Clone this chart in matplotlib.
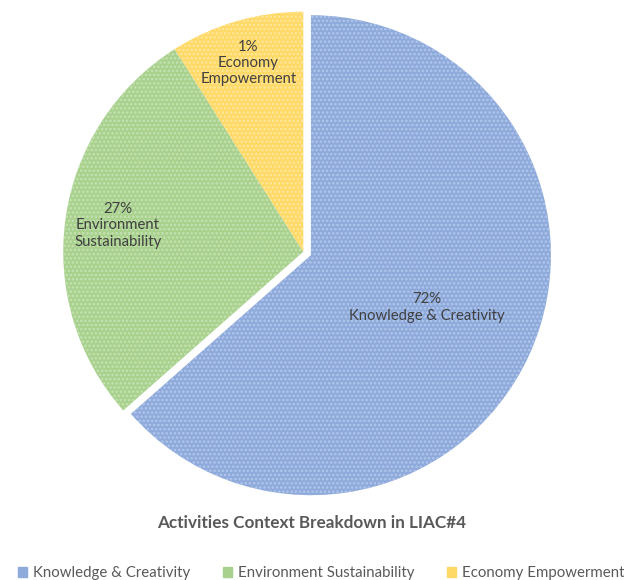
import numpy as np
import matplotlib.pyplot as plt
from matplotlib.patches import Patch

plt.rcParams['font.family'] = ['Lato', 'DejaVu Sans']
plt.rcParams['hatch.linewidth'] = 1.2

# data (slice sizes, label texts as printed)
categories = ["Knowledge & Creativity", "Environment Sustainability", "Economy Empowerment"]
sizes = [63.5, 27.5, 9.0]
pct_labels = ["72%", "27%", "1%"]
slice_labels = ["Knowledge & Creativity", "Environment\nSustainability", "Economy\nEmpowerment"]

colors = ["#8eaadb", "#a9d18e", "#ffd966"]
dots = ["#b4c7ec", "#c6e2b4", "#ffe79e"]
label_dist = [0.53, 0.78, 0.82]

fig = plt.figure(figsize=(6.24, 5.8), dpi=100)
ax = fig.add_axes([0.486 - 0.3846, 0.566 - 0.4138, 0.7692, 0.8276])

wedges, _ = ax.pie(
    sizes,
    colors=colors,
    startangle=90,
    counterclock=False,
    explode=[0.035, 0, 0],
    wedgeprops=dict(linewidth=0),
)

for w, dc in zip(wedges, dots):
    w.set_hatch("....")
    w.set_edgecolor(dc)
    w.set_linewidth(0)

for w, pct, lab, d in zip(wedges, pct_labels, slice_labels, label_dist):
    ang = np.deg2rad((w.theta1 + w.theta2) / 2)
    cx, cy = w.center
    x = cx + d * np.cos(ang)
    y = cy + d * np.sin(ang)
    ax.text(x, y, pct + "\n" + lab, ha="center", va="center",
            fontsize=10.7, color="#404040", linespacing=1.2)

ax.set_xlim(-1, 1)
ax.set_ylim(-1, 1)
ax.set_aspect("equal")

fig.text(0.5, 1 - 523 / 580, "Activities Context Breakdown in LIAC#4",
         ha="center", va="center", fontsize=12.3, fontweight="bold",
         color="#595959")

handles = [Patch(facecolor=c, edgecolor=c) for c in colors]
fig.legend(handles, categories, loc="center", bbox_to_anchor=(0.515, 0.012),
           ncol=3, frameon=False, fontsize=10.8, labelcolor="#595959",
           handlelength=0.6, handleheight=0.6, handletextpad=0.4,
           columnspacing=2.2)

fig.savefig("out.png", dpi=100)
